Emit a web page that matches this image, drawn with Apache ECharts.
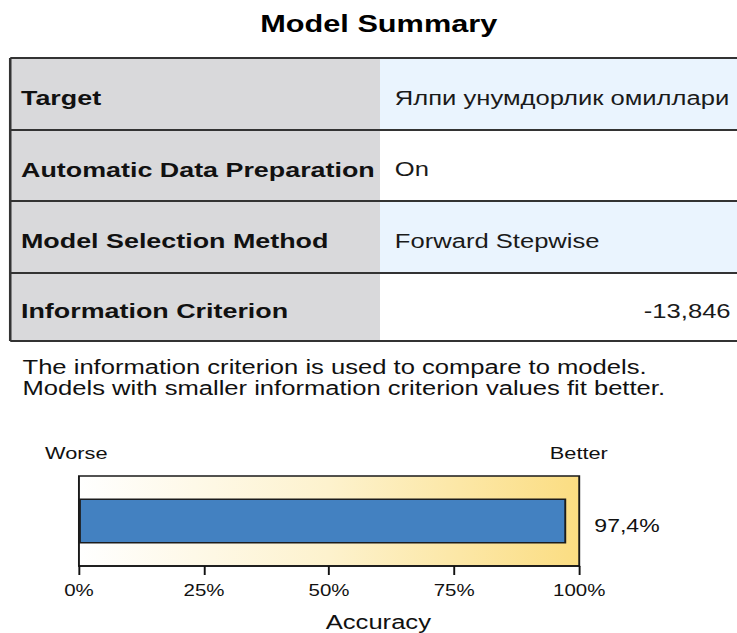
<!DOCTYPE html>
<html>
<head>
<meta charset="utf-8">
<title>Model Summary</title>
<script src="https://cdn.jsdelivr.net/npm/echarts@6/dist/echarts.min.js"></script>
<style>
  html, body { margin: 0; padding: 0; background: #fff; overflow: hidden; }
  /* the reference is stretched horizontally, so the chart is drawn narrow and widened */
  #chart { width: 576px; height: 633px; transform-origin: 0 0; transform: scaleX(1.2795); }
</style>
</head>
<body>
<div id="chart"></div>
<script>
// chart data
const titleText = 'Model Summary';
const rowLabels = ['Target', 'Automatic Data Preparation', 'Model Selection Method', 'Information Criterion'];
const rowValues = ['Ялпи унумдорлик омиллари', 'On', 'Forward Stepwise', '-13,846'];
const noteLines = [
  'The information criterion is used to compare to models.',
  'Models with smaller information criterion values fit better.'
];
const scaleEnds = ['Worse', 'Better'];
const accuracyNames = ['Accuracy'];
const accuracyValues = [97.4];
const axisTicks = [0, 25, 50, 75, 100];

const FONT = '"Liberation Sans", Arial, sans-serif';
const rowEdges = [58, 130, 201, 273, 341]; // horizontal rules of the table
const tableLeft = 8;
const labelColRight = 297;
const tableRight = 640;

const isNumber = (s) => /^-?[\d,.\s]+$/.test(s);

const buildTable = () => {
  const cells = [];
  const lines = [];
  const texts = [];
  rowLabels.forEach((label, i) => {
    const top = rowEdges[i];
    const h = rowEdges[i + 1] - top;
    const mid = top + h / 2 + 4;
    cells.push({
      type: 'rect',
      shape: { x: tableLeft, y: top, width: labelColRight - tableLeft, height: h },
      style: { fill: '#d9d9db' }
    });
    cells.push({
      type: 'rect',
      shape: { x: labelColRight, y: top, width: tableRight - labelColRight, height: h },
      style: { fill: i % 2 === 0 ? '#eaf4fe' : '#ffffff' }
    });
    texts.push({
      type: 'text', x: 16.4, y: mid,
      style: { text: label, fontFamily: FONT, fontSize: 21, fontWeight: 'bold',
        fill: '#111', align: 'left', verticalAlign: 'middle' }
    });
    const v = rowValues[i];
    const num = isNumber(v);
    texts.push({
      type: 'text', x: num ? 571 : 308.6, y: mid,
      style: { text: v, fontFamily: FONT, fontSize: 20,
        fill: '#1a1a1a', align: num ? 'right' : 'left', verticalAlign: 'middle' }
    });
  });
  rowEdges.forEach((y) => {
    lines.push({
      type: 'line',
      shape: { x1: tableLeft, y1: y, x2: tableRight, y2: y },
      style: { stroke: '#333', lineWidth: 2 }
    });
  });
  lines.push({
    type: 'line',
    shape: { x1: tableLeft, y1: rowEdges[0], x2: tableLeft, y2: rowEdges[rowEdges.length - 1] },
    style: { stroke: '#333', lineWidth: 2 }
  });
  return cells.concat(lines, texts);
};

const buildNotes = () => {
  const out = [{
    type: 'text', x: 296, y: 23.5,
    style: { text: titleText, fontFamily: FONT, fontSize: 24, fontWeight: 'bold',
      fill: '#000', align: 'center', verticalAlign: 'middle' }
  }];
  noteLines.forEach((t, i) => {
    out.push({
      type: 'text', x: 17.6, y: 367 + i * 21,
      style: { text: t, fontFamily: FONT, fontSize: 20, fill: '#111', align: 'left', verticalAlign: 'middle' }
    });
  });
  out.push({
    type: 'text', x: 35.2, y: 453,
    style: { text: scaleEnds[0], fontFamily: FONT, fontSize: 17, fill: '#111', align: 'left', verticalAlign: 'middle' }
  });
  out.push({
    type: 'text', x: 429.7, y: 453,
    style: { text: scaleEnds[1], fontFamily: FONT, fontSize: 17, fill: '#111', align: 'left', verticalAlign: 'middle' }
  });
  return out;
};

const chart = echarts.init(document.getElementById('chart'), null, { renderer: 'svg' });

chart.setOption({
  animation: false,
  backgroundColor: '#ffffff',
  graphic: buildTable().concat(buildNotes()),
  grid: {
    left: 61.7,
    right: 123.3,
    top: 476,
    bottom: 67,
    show: true,
    borderColor: '#1a1a1a',
    borderWidth: 1.5,
    backgroundColor: new echarts.graphic.LinearGradient(0, 0, 1, 0, [
      { offset: 0, color: '#ffffff' },
      { offset: 0.5, color: '#fdf2cd' },
      { offset: 1, color: '#fbdd82' }
    ])
  },
  xAxis: {
    type: 'value',
    min: axisTicks[0],
    max: axisTicks[axisTicks.length - 1],
    interval: axisTicks[1] - axisTicks[0],
    axisLine: { show: true, lineStyle: { color: '#111', width: 1.5 } },
    axisTick: { show: true, length: 9, lineStyle: { color: '#111', width: 1.5 } },
    axisLabel: { formatter: '{value}%', fontFamily: FONT, fontSize: 16, color: '#111', margin: 16 },
    splitLine: { show: false },
    name: accuracyNames[0],
    nameLocation: 'middle',
    nameGap: 46,
    // the title sits right of the axis centre in the reference
    nameTextStyle: { fontFamily: FONT, fontSize: 20, color: '#111', padding: [0, 0, 0, 77] }
  },
  yAxis: {
    type: 'category',
    data: accuracyNames,
    show: false
  },
  series: [{
    type: 'bar',
    data: accuracyValues,
    barWidth: 45,
    silent: true,
    itemStyle: { color: '#4381c1', borderColor: '#1c1c1c', borderWidth: 1.5 },
    label: {
      show: true,
      position: 'right',
      distance: 22,
      offset: [0, 4],
      formatter: (p) => p.value.toFixed(1).replace('.', ',') + '%',
      fontFamily: FONT,
      fontSize: 18,
      color: '#111'
    }
  }]
});
</script>
</body>
</html>
